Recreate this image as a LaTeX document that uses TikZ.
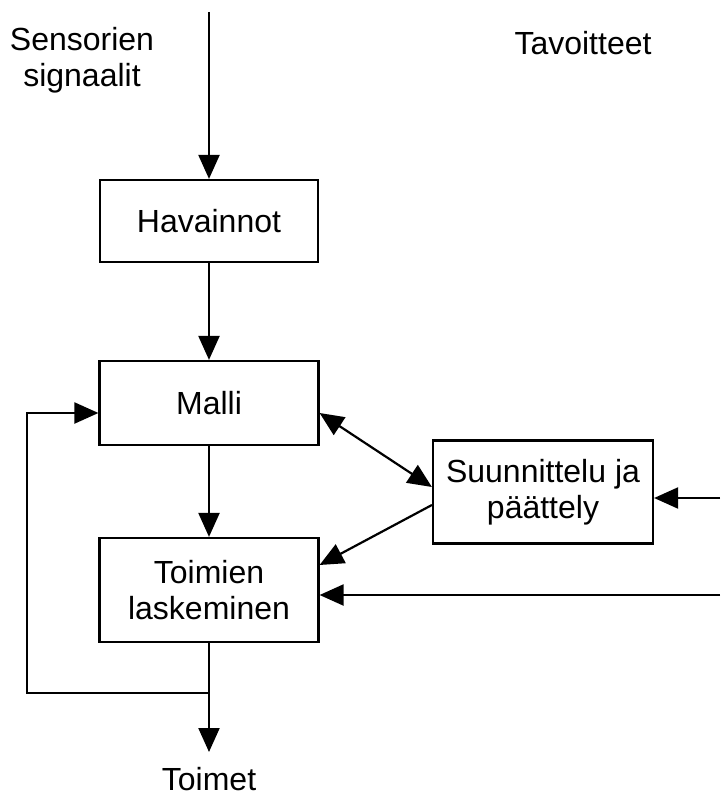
\documentclass[tikz,border=0pt]{standalone}
\usepackage{fontspec}
\setmainfont{Liberation Sans}
\usetikzlibrary{arrows.meta}
\tikzset{
  box/.style={draw, line width=2.2pt, rectangle, inner sep=0pt, align=center, font=\fontsize{32}{36}\selectfont},
  lbl/.style={align=center, inner sep=0pt, font=\fontsize{32}{36}\selectfont},
  wire/.style={line width=2.2pt},
  arr/.style={wire, -{Triangle[length=24pt,width=21pt]}},
  darr/.style={wire, {Triangle[length=24pt,width=21pt]}-{Triangle[length=24pt,width=21pt]}}
}
\begin{document}
\begin{tikzpicture}[x=1pt,y=-1pt]
  \useasboundingbox (0,0) rectangle (720,799);

  % blocks
  \node[box, minimum width=218pt, minimum height=82pt] (hav) at (209,221) {Havainnot};
  \node[box, minimum width=219pt, minimum height=84pt] (malli) at (209,403) {Malli};
  \node[box, minimum width=219pt, minimum height=104pt] (toim) at (209,590) {Toimien\\laskeminen};
  \node[box, minimum width=220pt, minimum height=103pt] (suun) at (543,492) {Suunnittelu ja\\päättely};

  % free texts
  \node[lbl] (sens) at (82,60) {Sensorien\\signaalit};
  \node[lbl] (tav) at (583,43) {Tavoitteet};
  \node[lbl] (toimet) at (209,779) {Toimet};

  % free ends
  \coordinate (top) at (209,12);
  \coordinate (out) at (209,752);
  \coordinate (split) at (209,693);
  \coordinate (loopl) at (27,693);
  \coordinate (goal1) at (720,498);
  \coordinate (goal2) at (720,595);

  % connectors
  \draw[arr] (top) -- (hav.north);
  \draw[arr] (hav.south) -- (malli.north);
  \draw[arr] (malli.south) -- (toim.north);
  \draw[arr] (toim.south) -- (out);
  \draw[arr] (split) -- (loopl) |- ([yshift=-10pt]malli.west);
  \draw[darr] ([yshift=-10pt]malli.east) -- ([yshift=5pt]suun.west);
  \draw[arr] ([yshift=-13pt]suun.west) -- ([yshift=25pt]toim.east);
  \draw[arr] (goal1) -- (goal1 -| suun.east);
  \draw[arr] (goal2) -- (goal2 -| toim.east);
\end{tikzpicture}
\end{document}
